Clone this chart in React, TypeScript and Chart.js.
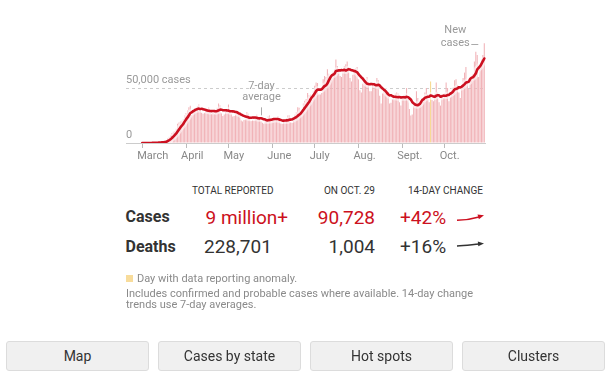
import React, { useEffect, useRef } from 'react';
import { Chart, registerables } from 'chart.js';

Chart.register(...registerables);

// ---- data ----
const START_UTC = Date.UTC(2020, 2, 1); // March 1, 2020
const LEAD_DAYS = 11; // empty axis room before March 1

// Daily new cases, Mar 1 – Oct 29, 2020
const DAILY_CASES = [
  5, 20, 22, 35, 60, 80, 110,
  170, 260, 300, 450, 430, 680, 720,
  930, 1200, 1700, 2800, 4500, 5700, 7000,
  9000, 10200, 10800, 13000, 17500, 18700, 19600,
  20200, 21800, 25100, 27300, 29500, 32600, 33800,
  25500, 29000, 30500, 31500, 33500, 35000, 31000,
  27500, 26500, 27500, 29500, 30500, 32500, 30000,
  26500, 27500, 26500, 29000, 32000, 36000, 34000,
  27000, 24500, 26000, 28500, 31000, 35000, 30500,
  26500, 24000, 24500, 26000, 29500, 29000, 27000,
  20500, 19500, 21000, 21500, 28000, 26500, 24000,
  20000, 21000, 20500, 22500, 26000, 24000, 23000,
  20000, 18500, 17500, 20000, 21500, 24000, 25000,
  21000, 20500, 20000, 20500, 21500, 24500, 21500,
  18000, 17500, 19000, 21000, 22500, 25000, 25000,
  19000, 18500, 23500, 26000, 28000, 32500, 32000,
  27000, 29500, 36000, 38500, 40000, 45500, 43500,
  44000, 43000, 47000, 52000, 55000, 54500, 44000,
  44000, 45500, 58000, 61000, 60000, 67000, 63000,
  61000, 58000, 65000, 67000, 76000, 70000, 65000,
  61000, 60000, 64000, 70000, 71500, 74000, 69000,
  59000, 56000, 62000, 67000, 68000, 69000, 58000,
  48000, 46000, 54000, 55000, 57000, 60000, 55000,
  47000, 47000, 53000, 55000, 52000, 59000, 57000,
  43000, 36000, 45000, 47000, 45000, 48000, 46000,
  36000, 36500, 40000, 43000, 45000, 46000, 45000,
  37000, 34000, 41000, 43500, 44000, 50000, 42000,
  31000, 25000, 26000, 34000, 37000, 47000, 41000,
  36000, 36000, 41000, 41000, 46000, 50000, 44000,
  37000, 56000, 39000, 38000, 45000, 55000, 46000,
  37000, 34000, 43000, 41000, 45000, 55000, 50000,
  38000, 42000, 48000, 51000, 57000, 58000, 53000,
  46000, 41000, 52000, 59000, 64000, 69000, 56000,
  49000, 58000, 60000, 63000, 74000, 83000, 80000,
  60000, 68000, 76000, 80000, 90728,
];
const ANOMALY_DATES = ['2020-09-21'];
const MONTH_LABELS = ['', '', 'March', 'April', 'May', 'June', 'July', 'Aug.', 'Sept.', 'Oct.'];
const Y_TICKS = [0, 50000];
const Y_TICK_LABELS = ['0', '50,000 cases'];
const Y_MAX = 100000;
const AVG_NOTE_DATE = '2020-05-24';

const TABLE_HEADERS = ['TOTAL REPORTED', 'ON OCT. 29', '14-DAY CHANGE'];
const ROW_NAMES = ['Cases', 'Deaths'];
const TOTALS = ['9 million+', '228,701'];
const ON_DAY = ['90,728', '1,004'];
const CHANGES = ['+42%', '+16%'];
const BUTTONS = ['Map', 'Cases by state', 'Hot spots', 'Clusters'];

const FONT = 'Roboto, "Liberation Sans", Arial, sans-serif';
const RED = '#cc1020';

export default function App() {
  const ref = useRef<HTMLCanvasElement>(null);

  useEffect(() => {
    const canvas = ref.current!;
    const labels: string[] = [];
    const dates: Date[] = [];
    const total = LEAD_DAYS + DAILY_CASES.length;
    for (let i = 0; i < total; i++) {
      const d = new Date(START_UTC + (i - LEAD_DAYS) * 86400000);
      dates.push(d);
      labels.push(d.toISOString().slice(0, 10));
    }
    const anomaly = new Set(ANOMALY_DATES.map((s) => labels.indexOf(s)));
    const bars = labels.map((_, i) => (i < LEAD_DAYS ? null : DAILY_CASES[i - LEAD_DAYS]));
    const avg = labels.map((_, i) => {
      if (i < LEAD_DAYS) return null;
      let s = 0, n = 0;
      for (let j = i - 6; j <= i; j++) {
        if (j < LEAD_DAYS || anomaly.has(j)) continue;
        s += bars[j] as number;
        n++;
      }
      return n ? s / n : null;
    });
    const isMonthStart = (i: number) => i >= LEAD_DAYS && dates[i] && dates[i].getUTCDate() === 1;
    const monthLabel = (i: number) => (isMonthStart(i) ? MONTH_LABELS[dates[i].getUTCMonth()] : '');

    const notes = {
      id: 'notes',
      afterDatasetsDraw(chart: any) {
        const { ctx, scales } = chart;
        const x = scales.x, y = scales.y;
        ctx.save();
        ctx.font = `11px ${FONT}`;
        ctx.fillStyle = '#999';
        ctx.textAlign = 'center';
        ctx.textBaseline = 'middle';
        const ai = labels.indexOf(AVG_NOTE_DATE);
        const ax = Math.round(x.getPixelForValue(ai)) + 0.5;
        const ay = y.getPixelForValue(avg[ai]);
        ctx.fillText('7-day', ax, ay - 32);
        ctx.fillText('average', ax, ay - 21);
        ctx.strokeStyle = '#aaa';
        ctx.lineWidth = 1;
        ctx.beginPath();
        ctx.moveTo(ax, ay - 11);
        ctx.lineTo(ax, ay - 3);
        ctx.stroke();

        const li = labels.length - 1;
        const lx = x.getPixelForValue(li);
        const ly = y.getPixelForValue(bars[li] as number);
        ctx.fillText('New', lx - 29, ly - 12.5);
        ctx.fillText('cases', lx - 29, ly + 0.5);
        ctx.beginPath();
        ctx.moveTo(lx - 13, Math.round(ly) + 1.5);
        ctx.lineTo(lx - 6, Math.round(ly) + 1.5);
        ctx.stroke();
        ctx.restore();
      },
    };

    const chart = new Chart(canvas, {
      type: 'bar',
      data: {
        labels,
        datasets: [
          {
            type: 'line',
            data: avg,
            borderColor: RED,
            borderWidth: 2.6,
            pointRadius: 0,
            tension: 0.35,
            borderCapStyle: 'round',
            borderJoinStyle: 'round',
            order: 1,
          } as any,
          {
            type: 'line',
            data: avg,
            borderColor: 'rgba(255,255,255,0.55)',
            borderWidth: 7,
            pointRadius: 0,
            tension: 0.35,
            order: 2,
          } as any,
          {
            type: 'bar',
            data: bars,
            backgroundColor: (c: any) => (anomaly.has(c.dataIndex) ? '#f7d890' : '#f1b3b8'),
            barPercentage: 0.75,
            categoryPercentage: 1,
            order: 3,
          } as any,
        ],
      },
      options: {
        responsive: false,
        animation: false,
        devicePixelRatio: 1,
        layout: { padding: { left: 126, right: 123, top: 33, bottom: 0 } },
        plugins: { legend: { display: false }, tooltip: { enabled: false } },
        scales: {
          x: {
            grid: {
              offset: false,
              drawOnChartArea: false,
              tickLength: 5,
              color: (c: any) => (isMonthStart(c.index) ? '#bbb' : 'rgba(0,0,0,0)'),
            },
            border: { display: true, color: '#ccc', width: 1 },
            ticks: {
              autoSkip: false,
              maxRotation: 0,
              minRotation: 0,
              align: 'start',
              labelOffset: -5,
              padding: 2,
              color: '#888',
              font: { family: FONT, size: 11 },
              callback: (_v: any, i: number) => monthLabel(i),
            },
            afterFit: (s: any) => { s.height = 27; },
          } as any,
          y: {
            min: 0,
            max: Y_MAX,
            afterBuildTicks: (s: any) => { s.ticks = Y_TICKS.map((v) => ({ value: v })); },
            grid: {
              drawTicks: false,
              color: (c: any) => (c.tick && c.tick.value !== 0 ? '#ccc' : 'rgba(0,0,0,0)'),
            },
            border: { display: false, dash: [3, 3] },
            ticks: {
              mirror: true,
              padding: 0,
              labelOffset: -8,
              color: '#999',
              font: { family: FONT, size: 11 },
              callback: (v: any) => Y_TICK_LABELS[Y_TICKS.indexOf(v)],
            },
            afterFit: (s: any) => { s.width = 0; },
          } as any,
        },
      },
      plugins: [notes],
    });
    return () => chart.destroy();
  }, []);

  const abs = (o: React.CSSProperties): React.CSSProperties => ({ position: 'absolute', whiteSpace: 'nowrap', ...o });

  return (
    <div style={{ position: 'absolute', left: 0, top: 0, width: 608, height: 377, fontFamily: FONT, background: '#fff', overflow: 'hidden' }}>
      <canvas ref={ref} width={608} height={170} style={{ position: 'absolute', left: 0, top: 0, width: 608, height: 170 }} />

      {/* table header */}
      <div style={abs({ left: 192, top: 186, fontSize: 10, lineHeight: '10px', color: '#333' })}>{TABLE_HEADERS[0]}</div>
      <div style={abs({ right: 233, top: 186, fontSize: 10, lineHeight: '10px', color: '#333' })}>{TABLE_HEADERS[1]}</div>
      <div style={abs({ left: 408, top: 186, fontSize: 10, lineHeight: '10px', color: '#333' })}>{TABLE_HEADERS[2]}</div>

      {[0, 1].map((r) => {
        const cy = r === 0 ? 217 : 246.5;
        const col = r === 0 ? RED : '#333';
        return (
          <React.Fragment key={r}>
            <div style={abs({ left: 125.5, top: cy - 8, fontSize: 16, lineHeight: '16px', fontWeight: 700, color: '#333' })}>{ROW_NAMES[r]}</div>
            <div style={abs({ left: r === 0 ? 205.5 : 204, top: cy - 9.5, fontSize: 19, lineHeight: '19px', color: col })}>{TOTALS[r]}</div>
            <div style={abs({ right: 233, top: cy - 9.5, fontSize: 19, lineHeight: '19px', color: col })}>{ON_DAY[r]}</div>
            <div style={abs({ left: 400, top: cy - 9.5, fontSize: 19, lineHeight: '19px', color: col })}>{CHANGES[r]}</div>
          </React.Fragment>
        );
      })}

      <svg width={608} height={377} style={{ position: 'absolute', left: 0, top: 0, pointerEvents: 'none' }}>
        <path d="M457 220.3 C 466 220.1, 473 218.8, 479 217" fill="none" stroke={RED} strokeWidth={1.5} />
        <polygon points="484,215.3 478.9,219.35 477.5,214.5" fill={RED} />
        <path d="M457 245.9 C 465 245.6, 472 244.6, 479 244" fill="none" stroke="#333" strokeWidth={1.5} />
        <polygon points="484,243.4 478.3,246.2 477.8,241.4" fill="#333" />
      </svg>

      {/* footnote */}
      <div style={abs({ left: 126, top: 275, width: 7, height: 7, background: '#f8dc9b' })} />
      <div style={abs({ left: 137, top: 272.5, fontSize: 11, lineHeight: '11px', color: '#8a8a8a' })}>Day with data reporting anomaly.</div>
      <div style={abs({ left: 126, top: 287.5, fontSize: 11, lineHeight: '11.7px', color: '#8a8a8a' })}>
        Includes confirmed and probable cases where available. 14-day change
        <br />
        trends use 7-day averages.
      </div>

      {BUTTONS.map((b, i) => (
        <div
          key={b}
          style={{
            position: 'absolute',
            left: 6 + i * 152,
            top: 341,
            width: 143,
            height: 30,
            boxSizing: 'border-box',
            background: '#f0f0f0',
            border: '1px solid #dcdcdc',
            borderRadius: 3,
            textAlign: 'center',
            fontSize: 14,
            lineHeight: '28px',
            color: '#333',
          }}
        >
          {b}
        </div>
      ))}
    </div>
  );
}
